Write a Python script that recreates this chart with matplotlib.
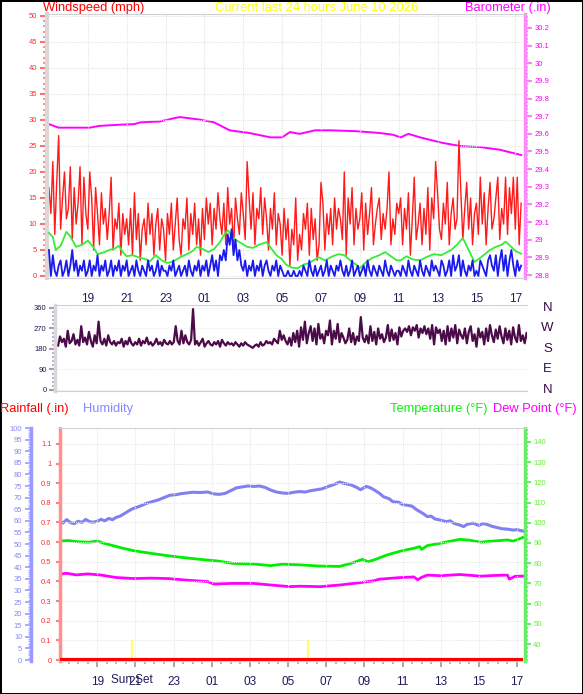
import numpy as np
import matplotlib
matplotlib.use("Agg")
import matplotlib.pyplot as plt
from matplotlib.ticker import MultipleLocator, FixedLocator, FuncFormatter

plt.rcParams['font.family'] = ['Liberation Sans', 'DejaVu Sans']

W, H = 583, 694
hour_ticks = list(range(2, 25, 2))
hour_labels = ["19", "21", "23", "01", "03", "05", "07", "09", "11", "13", "15", "17"]

# wind speed (mph), 10 samples per hour from 17:00
wind_speed = [
    17, 12, 22, 8, 18, 27, 9, 15, 20, 11,
    13, 21, 7, 17, 10, 14, 21, 6, 19, 12,
    9, 20, 15, 5, 17, 12, 6, 16, 10, 13,
    7, 12, 19, 5, 11, 9, 14, 4, 12, 8,
    11, 6, 13, 4, 16, 7, 12, 3, 9, 11,
    6, 14, 8, 12, 4, 10, 13, 5, 11, 9,
    3, 12, 8, 14, 5, 10, 15, 7, 4, 11,
    9, 15, 5, 12, 8, 14, 6, 11, 4, 13,
    7, 15, 10, 14, 6, 13, 9, 16, 11, 8,
    14, 6, 17, 10, 13, 5, 15, 11, 8, 16,
    12, 7, 22, 15, 9, 16, 6, 13, 11, 17,
    8, 15, 11, 5, 13, 9, 16, 6, 12, 10,
    4, 13, 7, 11, 2, 9, 6, 15, 3, 8,
    5, 12, 9, 14, 4, 13, 7, 11, 3, 6,
    18, 14, 5, 12, 8, 13, 6, 15, 9, 13,
    11, 7, 20, 4, 15, 10, 17, 6, 13, 9,
    11, 16, 5, 14, 8, 12, 17, 6, 10, 13,
    15, 7, 12, 9, 13, 20, 6, 11, 8, 14,
    12, 15, 6, 13, 9, 16, 4, 11, 19, 7,
    10, 14, 6, 13, 8, 17, 5, 15, 11, 22,
    16, 9, 7, 14, 10, 18, 6, 12, 15, 9,
    11, 26, 16, 7, 13, 18, 9, 15, 6, 12,
    14, 8, 19, 10, 16, 6, 13, 18, 9, 11,
    15, 19, 7, 13, 10, 19, 8, 17, 12, 19,
    9, 19, 6, 14,
]

# low wind (mph), same sampling
wind_low = [
    5, 0, 4, 1, 0, 2, 3, 0, 1, 3,
    0, 2, 5, 1, 3, 0, 2, 1, 3, 0,
    1, 3, 0, 2, 1, 4, 0, 2, 1, 3,
    0, 1, 3, 0, 2, 1, 3, 0, 2, 1,
    3, 0, 1, 2, 0, 3, 1, 0, 2, 1,
    0, 3, 1, 2, 0, 1, 3, 0, 2, 1,
    1, 0, 2, 1, 3, 0, 1, 2, 0, 1,
    2, 0, 3, 1, 0, 2, 1, 3, 0, 2,
    1, 3, 0, 2, 4, 1, 3, 0, 4, 3,
    5, 3, 8, 6, 9, 4, 7, 3, 5, 2,
    1, 3, 0, 2, 1, 3, 0, 2, 1, 3,
    0, 2, 3, 1, 0, 2, 1, 3, 0, 2,
    1, 0, 0, 1, 0, 0, 1, 0, 0, 1,
    0, 2, 1, 0, 3, 1, 0, 2, 0, 1,
    2, 0, 1, 3, 0, 2, 1, 0, 2, 1,
    3, 1, 0, 2, 0, 1, 3, 0, 1, 2,
    0, 1, 2, 0, 3, 1, 0, 2, 1, 0,
    2, 1, 0, 3, 1, 0, 2, 1, 0, 1,
    1, 0, 2, 1, 0, 3, 1, 0, 2, 1,
    0, 3, 1, 0, 2, 1, 0, 3, 1, 2,
    1, 0, 3, 2, 0, 1, 3, 0, 4, 1,
    2, 4, 0, 3, 1, 0, 2, 1, 3, 0,
    1, 0, 3, 2, 1, 0, 3, 4, 2, 1,
    4, 0, 3, 5, 1, 4, 0, 3, 5, 2,
    0, 3, 1, 2,
]

# average wind (hours after 17:00, mph)
avg_t = [0.0, 0.2, 0.35, 0.6, 0.9, 1.1, 1.4, 1.7, 2.0, 2.3, 2.5, 2.8, 3.1, 3.4, 3.6, 3.8,
         4.0, 4.3, 4.7, 5.0, 5.2, 5.5, 5.8, 6.1, 6.4, 6.8, 7.1, 7.4, 7.6, 7.9, 8.2, 8.5,
         8.8, 9.0, 9.2, 9.5, 9.9, 10.2, 10.5, 10.8, 11.2, 11.5, 11.7, 12.0, 12.2, 12.5,
         12.8, 13.1, 13.4, 13.7, 13.9, 14.2, 14.6, 14.9, 15.2, 15.5, 15.8, 16.0, 16.3,
         16.6, 17.0, 17.3, 17.6, 17.9, 18.1, 18.4, 18.7, 19.1, 19.4, 19.8, 20.2, 20.5,
         20.7, 21.0, 21.3, 21.6, 21.9, 22.2, 22.5, 22.7, 23.0, 23.3, 23.5, 23.8, 24.0, 24.3]
avg_wind = [8.3, 7.5, 5.0, 5.8, 8.5, 7.6, 5.6, 6.0, 6.8, 5.5, 4.2, 4.5, 5.0, 5.3, 5.8, 4.6,
            3.8, 4.0, 3.5, 3.2, 2.8, 4.0, 3.0, 2.5, 2.8, 3.7, 4.2, 4.8, 5.6, 5.2, 4.6, 5.2,
            6.5, 7.8, 8.8, 7.2, 6.3, 5.6, 5.4, 6.0, 6.5, 5.0, 4.0, 3.2, 2.2, 1.6,
            1.5, 2.2, 2.5, 3.2, 3.6, 3.0, 3.8, 4.2, 4.0, 3.0, 2.2, 1.5, 2.6,
            3.4, 4.0, 4.6, 3.8, 3.0, 3.0, 3.8, 3.2, 3.0, 3.6, 4.2, 4.0, 4.6,
            5.0, 6.0, 7.3, 5.0, 2.7, 3.5, 4.4, 5.0, 5.6, 6.0, 6.6, 5.6, 4.8, 4.3]

# barometer (inHg)
baro_t = [0, 0.5, 2.1, 2.6, 3.7, 4.4, 4.7, 5.7, 6.5, 6.75, 7.8, 8.5, 9.3, 10.3, 11.4, 12.0,
          12.4, 12.9, 13.7, 14.5, 15.8, 17.0, 17.7, 18.1, 18.5, 19.1, 20.2, 21.2, 22.2,
          23.2, 24.3]
baro = [29.655, 29.635, 29.635, 29.645, 29.652, 29.655, 29.665, 29.67, 29.69, 29.695,
        29.68, 29.665, 29.62, 29.605, 29.58, 29.58, 29.61, 29.6, 29.62, 29.62, 29.615,
        29.605, 29.595, 29.58, 29.6, 29.58, 29.55, 29.53, 29.525, 29.51, 29.48]

# wind direction (degrees), 10 samples per hour
wind_dir = [
    195, 235, 210, 225, 190, 260, 205, 215, 245, 200,
    220, 195, 280, 210, 230, 200, 255, 215, 190, 240,
    205, 300, 215, 200, 225, 195, 240, 210, 200, 215,
    195, 210, 205, 225, 190, 215, 200, 230, 205, 195,
    210, 200, 225, 195, 215, 205, 230, 200, 210, 195,
    205, 225, 200, 210, 195, 220, 205, 200, 215, 200,
    210, 280, 215, 200, 260, 205, 240, 210, 200, 220,
    355, 200, 215, 195, 210, 225, 190, 205, 215, 200,
    195, 210, 200, 215, 190, 220, 205, 195, 210, 200,
    205, 195, 210, 200, 190, 205, 195, 210, 200, 195,
    190, 185, 195, 200, 190, 210, 195, 200, 215, 205,
    210, 200, 225, 215, 205, 260, 220, 240, 215, 200,
    230, 195, 250, 210, 260, 190, 275, 220, 300, 205,
    250, 280, 215, 270, 200, 290, 225, 245, 205, 260,
    240, 305, 200, 260, 225, 290, 210, 250, 230, 205,
    220, 270, 210, 250, 200, 235, 215, 320, 230, 210,
    240, 205, 280, 215, 255, 200, 270, 225, 245, 210,
    230, 285, 215, 265, 220, 250, 200, 275, 235, 260,
    270, 255, 280, 240, 275, 260, 285, 230, 270, 250,
    280, 245, 270, 225, 285, 200, 275, 250, 265, 215,
    260, 200, 280, 215, 270, 230, 285, 205, 265, 240,
    225, 270, 205, 255, 280, 215, 245, 190, 270, 230,
    255, 200, 270, 215, 285, 240, 210, 265, 225, 280,
    235, 205, 270, 220, 260, 200, 275, 230, 210, 285,
    215, 240, 205, 250,
]

# humidity (%)
hum_t = [0.0, 0.2, 0.4, 0.6, 0.8, 1.0, 1.2, 1.4, 1.6, 1.8, 2.0, 2.2, 2.4, 2.6, 2.8, 3.0,
         3.2, 3.4, 3.6, 3.8, 4.0, 4.3, 4.6, 4.9, 5.2, 5.5, 5.8, 6.1, 6.4, 6.7, 7.0, 7.4,
         7.8, 8.1, 8.4, 8.7, 9.0, 9.3, 9.6, 9.9, 10.2, 10.5, 10.8, 11.1, 11.4, 11.7, 12.0,
         12.3, 12.6, 12.9, 13.2, 13.5, 13.8, 14.1, 14.4, 14.7, 15.0, 15.3, 15.6, 15.8,
         16.1, 16.3, 16.5, 16.8, 17.0, 17.3, 17.5, 17.8, 18.0, 18.2, 18.5, 18.7, 18.9,
         19.1, 19.3, 19.5, 19.7, 20.0, 20.3, 20.5, 20.7, 21.0, 21.2, 21.4, 21.7, 22.0,
         22.2, 22.4, 22.7, 23.0, 23.2, 23.5, 23.8, 24.0, 24.3]
humidity = [60.0, 59.0, 60.5, 59.2, 58.8, 59.8, 59.3, 60.6, 59.6, 59.4, 59.8, 60.6, 60.0,
            61.0, 60.5, 61.5, 62.0, 63.0, 64.0, 65.0, 65.6, 66.5, 67.6, 68.3, 69.0, 70.0,
            71.0, 71.2, 71.7, 72.0, 72.3, 72.2, 72.4, 71.6, 71.4, 71.8, 73.0, 74.2, 74.6,
            75.0, 74.8, 75.0, 74.4, 73.2, 72.4, 72.0, 71.8, 72.3, 72.6, 72.4, 73.0, 73.4,
            73.8, 74.8, 75.6, 76.7, 76.0, 75.5, 74.4, 73.4, 74.8, 74.3, 73.4, 71.8, 70.4,
            69.5, 68.2, 68.0, 67.0, 66.8, 66.3, 65.0, 64.0, 63.0, 61.8, 62.0, 60.8, 60.3,
            59.6, 60.0, 58.9, 58.2, 57.5, 58.5, 59.0, 58.0, 58.8, 58.5, 57.6, 57.0, 56.6,
            56.4, 56.0, 56.2, 55.6]

# temperature and dew point (F)
temp_t = [0.0, 0.5, 1.0, 1.6, 2.0, 2.3, 2.7, 3.3, 3.9, 4.8, 5.7, 6.5, 7.4, 8.3, 9.1, 10.2,
          11.1, 11.7, 12.6, 13.6, 14.7, 15.3, 15.9, 16.2, 16.5, 17.2, 17.9, 18.6, 18.9,
          19.0, 19.3, 20.0, 21.0, 21.5, 22.1, 22.7, 23.5, 23.8, 24.3]
temp = [91.0, 91.2, 90.6, 90.4, 91.0, 90.0, 89.0, 87.5, 86.2, 84.9, 83.7, 82.8, 81.9, 81.1,
        79.9, 79.6, 78.8, 79.5, 79.2, 78.6, 78.4, 79.9, 81.9, 80.7, 81.6, 84.1, 86.0, 87.4,
        88.2, 86.8, 88.7, 89.9, 91.8, 91.4, 90.4, 90.9, 91.5, 90.9, 92.7]
dew_t = [0.0, 0.4, 0.9, 1.5, 2.15, 3.0, 3.9, 4.8, 5.7, 6.7, 7.8, 8.1, 9.1, 10.2, 11.1, 12.1,
         12.6, 13.7, 14.7, 15.8, 16.5, 16.8, 17.9, 18.6, 18.8, 19.0, 19.3, 20.0, 21.0,
         22.1, 23.0, 23.5, 23.6, 23.9, 24.3]
dew = [74.5, 75.0, 74.2, 74.7, 74.2, 72.9, 72.4, 72.6, 72.4, 71.6, 70.9, 69.7, 70.0, 70.0,
       69.2, 68.4, 68.6, 68.4, 69.2, 70.4, 71.3, 72.1, 72.9, 73.2, 71.8, 73.0, 74.1, 73.8,
       74.4, 73.6, 74.0, 74.1, 72.1, 73.5, 73.6]

# rainfall (in)
rain_t = [0.0, 24.3]
rain = [0.0, 0.0]
sun_t = [3.83, 13.05]
sun_labels = ["Sun Set", ""]

navy = '#1c1c5c'
dot = (0, (1, 1))


def px_axes(fig, l, t, r, b):
    return fig.add_axes([l / W, 1 - b / H, (r - l) / W, (b - t) / H])


fig = plt.figure(figsize=(W / 100, H / 100), dpi=100)
fig.patch.set_facecolor('white')
fig.patch.set_edgecolor('black')
fig.patch.set_linewidth(2)

# ---------- top panel: wind + barometer ----------
ax1 = px_axes(fig, 47, 14, 525, 277.5)
ax1b = ax1.twinx()
ax1.set_zorder(2)
ax1.patch.set_visible(False)

t10 = np.arange(len(wind_speed)) / 10
ax1.plot(t10, wind_speed, color='#ff1a1a', lw=1.0, zorder=2)
ax1.plot(avg_t, avg_wind, color='#33ee33', lw=1.3, zorder=3)
ax1.plot(np.arange(len(wind_low)) / 10, wind_low, color='#1a1aee', lw=1.3, zorder=4)
ax1b.plot(baro_t, baro, color='#ff00ff', lw=1.4)

ax1.set_xlim(-0.1, 24.5)
ax1.set_ylim(-0.29, 50.38)
ax1b.set_ylim(28.786, 30.279)

ax1.yaxis.set_major_locator(MultipleLocator(5))
ax1.yaxis.set_minor_locator(MultipleLocator(1))
ax1.tick_params(axis='y', which='major', length=5, width=1.5, color='#ff7070',
                labelsize=5.5, labelcolor='#ff3030', pad=2)
ax1.tick_params(axis='y', which='minor', length=3, width=1.5, color='#ff9090')
ax1.set_xticks(hour_ticks)
ax1.set_xticklabels(hour_labels)
ax1.tick_params(axis='x', length=0, pad=11, labelsize=8.5, labelcolor=navy)
ax1.grid(True, color='#e4e4e4', ls=dot, lw=0.8)
for s in ['top', 'bottom']:
    ax1.spines[s].set_color('#d0d0d0')
    ax1.spines[s].set_linestyle(dot)
ax1.spines['left'].set_color('#d8d8d8')
ax1.spines['left'].set_linewidth(3)
ax1.spines['right'].set_visible(False)

ax1b.yaxis.set_major_locator(FixedLocator(np.round(np.arange(28.8, 30.21, 0.1), 1)))
ax1b.yaxis.set_minor_locator(MultipleLocator(0.02))
ax1b.yaxis.set_major_formatter(FuncFormatter(lambda v, p: f'{v:g}'))
ax1b.tick_params(axis='y', which='major', length=5, width=1.5, color='#ff80ff',
                 labelsize=5.5, labelcolor='#ff00ff', pad=2)
ax1b.tick_params(axis='y', which='minor', length=2.5, width=1.5, color='#ff99ff')
for s in ['top', 'bottom', 'left']:
    ax1b.spines[s].set_visible(False)
ax1b.spines['right'].set_color('#ff88ff')
ax1b.spines['right'].set_linestyle(dot)
ax1b.spines['right'].set_linewidth(2.5)

fig.text(43 / W, 1 - 8 / H, "Windspeed (mph)", color='#ff0000', fontsize=9.3, va='center')
fig.text(215 / W, 1 - 8 / H, "Current last 24 hours June 10 2026", color='#ffff00',
         fontsize=9.3, va='center')
fig.text(465 / W, 1 - 8 / H, "Barometer (.in)", color='#ff00ff', fontsize=9.3, va='center')

# ---------- middle panel: wind direction ----------
ax2 = px_axes(fig, 55, 305, 527, 391)
ax2.plot(np.arange(len(wind_dir)) / 10, wind_dir, color='#4b0a48', lw=1.6)
ax2.set_xlim(-0.16, 24.32)
ax2.set_ylim(-4.4, 373)
ax2.set_yticks([0, 90, 180, 270, 360])
ax2.yaxis.set_minor_locator(MultipleLocator(18))
ax2.set_xticks([])
ax2.tick_params(axis='y', which='major', length=4, width=1.5, color='#a898b8',
                labelsize=5.5, labelcolor='#1a1a50', pad=2)
ax2.tick_params(axis='y', which='minor', length=2, width=1.5, color='#c0b0d0')
ax2.grid(True, axis='y', color='#eeeeee', ls=dot, lw=0.8)
for s in ['top', 'bottom']:
    ax2.spines[s].set_color('#d0d0d0')
    ax2.spines[s].set_linestyle(dot)
ax2.spines['left'].set_color('#d8d8d8')
ax2.spines['left'].set_linewidth(2.5)
ax2.spines['right'].set_visible(False)
for lab, deg in zip(["N", "W", "S", "E", "N"], [360, 270, 180, 90, 0]):
    ax2.text(25.39, deg, lab, color='#3a0a4a', fontsize=9.5, ha='center', va='center',
             clip_on=False)

# ---------- bottom panel: rain, humidity, temperature ----------
ax3 = px_axes(fig, 60, 428, 525, 661)
ax3h = ax3.twinx()
ax3t = ax3.twinx()
ax3.set_zorder(3)
ax3.patch.set_visible(False)

ax3h.plot(hum_t, humidity, color='#8080f0', lw=2.2)
ax3t.plot(temp_t, temp, color='#00ee00', lw=2)
ax3t.plot(dew_t, dew, color='#ff00ff', lw=2)
ax3.plot(rain_t, rain, color='#ff0000', lw=3, solid_capstyle='butt', zorder=4)
ax3.vlines(sun_t, 0, 0.1, color='#ffff66', lw=1.5, zorder=3)

ax3.set_xlim(0.05, 24.42)
ax3.set_ylim(-0.005, 1.181)
ax3h.set_ylim(-0.43, 100)
ax3t.set_ylim(31.6, 146.9)

ax3.set_yticks(np.round(np.arange(0, 1.11, 0.1), 1))
ax3.yaxis.set_major_formatter(FuncFormatter(lambda v, p: f'{v:g}'))
ax3.tick_params(axis='y', length=3, width=1.5, color='#ff8080', labelsize=5.5,
                labelcolor='#ff3030', pad=3)
ax3.set_xticks(hour_ticks)
ax3.set_xticklabels(hour_labels)
ax3.xaxis.set_minor_locator(MultipleLocator(0.5))
ax3.tick_params(axis='x', which='major', length=4, width=1.2, color='#999999',
                labelsize=8.5, labelcolor=navy, pad=7)
ax3.tick_params(axis='x', which='minor', length=2.5, width=1.2, color='#aaaaaa')
ax3.grid(True, color='#e8e8e8', ls=dot, lw=0.8)
ax3.spines['left'].set_color('#ff9090')
ax3.spines['left'].set_linestyle(dot)
ax3.spines['left'].set_linewidth(2.5)
for s in ['top', 'bottom']:
    ax3.spines[s].set_color('#d4d4d4')
    ax3.spines[s].set_linestyle(dot)
ax3.spines['right'].set_visible(False)
for lab, ts in zip(sun_labels, sun_t):
    if lab:
        ax3.text(ts, -(680 - 661) / 233, lab, transform=ax3.get_xaxis_transform(),
                 color=navy, fontsize=8.5, ha='center', va='center')

ax3h.yaxis.set_ticks_position('left')
ax3h.spines['left'].set_position(('axes', -0.063))
ax3h.spines['left'].set_color('#9999ff')
ax3h.spines['left'].set_linewidth(2.5)
for s in ['top', 'bottom', 'right']:
    ax3h.spines[s].set_visible(False)
ax3h.yaxis.set_major_locator(MultipleLocator(5))
ax3h.yaxis.set_minor_locator(MultipleLocator(1))
ax3h.tick_params(axis='y', which='major', length=4, width=1.2, color='#9999ff',
                 labelsize=5.5, labelcolor='#8888ee', pad=2)
ax3h.tick_params(axis='y', which='minor', length=2, width=1, color='#aaaaff')

for s in ['top', 'bottom', 'left']:
    ax3t.spines[s].set_visible(False)
ax3t.spines['right'].set_color('#66ee66')
ax3t.spines['right'].set_linestyle(dot)
ax3t.spines['right'].set_linewidth(2.5)
ax3t.set_yticks(list(range(40, 141, 10)))
ax3t.yaxis.set_minor_locator(MultipleLocator(2))
ax3t.tick_params(axis='y', which='major', length=4, width=1.5, color='#66ee66',
                 labelsize=5.5, labelcolor='#66ee33', pad=2)
ax3t.tick_params(axis='y', which='minor', length=2, width=1.5, color='#88ee88')

fig.text(0 / W, 1 - 409 / H, "Rainfall (.in)", color='#ff0000', fontsize=9.3, va='center')
fig.text(83 / W, 1 - 409 / H, "Humidity", color='#8888ff', fontsize=9.3, va='center')
fig.text(390 / W, 1 - 409 / H, "Temperature (°F)", color='#11ee11', fontsize=9.3,
         va='center')
fig.text(493 / W, 1 - 409 / H, "Dew Point (°F)", color='#ff00ff', fontsize=9.3, va='center')

fig.savefig("out.png", dpi=100)
